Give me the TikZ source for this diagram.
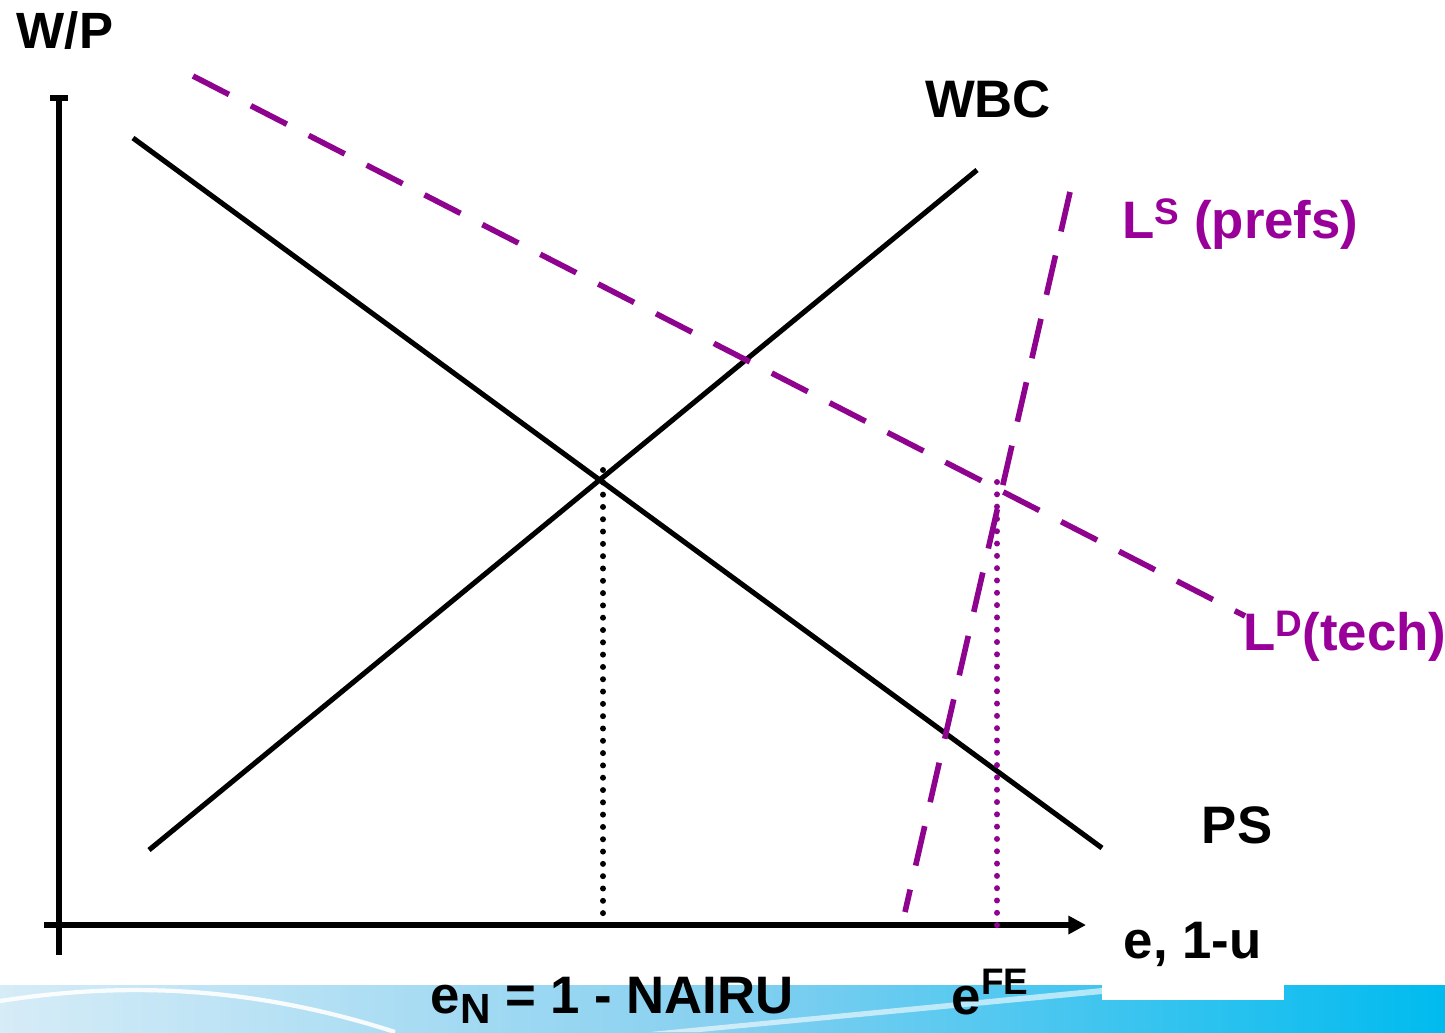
\documentclass[tikz,border=0pt]{standalone}
\usepackage{fontspec}
\setsansfont{Liberation Sans}
\usetikzlibrary{arrows.meta}

\begin{document}
\begin{tikzpicture}[x=0.01cm, y=-0.01cm, font=\sffamily\bfseries\fontsize{15}{17}\selectfont]

% --- colors ---
\definecolor{cPurple}{HTML}{8E048E}
\definecolor{cPurpleTxt}{HTML}{99009A}
\definecolor{cBandA}{HTML}{D6ECF7}
\definecolor{cBandB}{HTML}{86D0F0}
\definecolor{cBandC}{HTML}{00BBEF}

% --- styles ---
\tikzset{
  axisline/.style={line width=1.6pt},
  curve/.style={line width=1.45pt},
  dashcurve/.style={cPurple, line width=1.6pt, dash pattern=on 11.5pt off 7pt},
  dropline/.style={line width=1.7pt, line cap=round, dash pattern=on 0pt off 3.5pt},
  lbl/.style={inner sep=0pt, anchor=base},
}

% --- page ---
\useasboundingbox (0,0) rectangle (1445,1032);

% --- bottom band ---
\shade[left color=cBandA, right color=cBandB] (0,985) rectangle (723,1032);
\shade[left color=cBandB, right color=cBandC] (722,985) rectangle (1445,1032);
\draw[white, line width=1.2pt, opacity=0.9]
  (0,1001) .. controls (120,982) and (250,985) .. (395,1032);
\fill[white, opacity=0.6] (650,1032) -- (1102,988) -- (1102,994) -- (700,1032) -- cycle;
\fill[white] (1102,985) rectangle (1284,1000);

% --- points ---
\coordinate (yBot) at (59,955);
\coordinate (yTop) at (59,95);
\coordinate (xLeft) at (44,925);
\coordinate (xRight) at (1086,925);
\coordinate (psA) at (133,138);
\coordinate (psB) at (1102,848);
\coordinate (wbcA) at (149,850);
\coordinate (wbcB) at (977,170);
\coordinate (ldA) at (193,76);
\coordinate (ldB) at (1245,616);
\coordinate (lsA) at (1070,192);
\coordinate (lsB) at (905,912);
\coordinate (eqN) at (603,470);
\coordinate (eqNb) at (603,915);
\coordinate (eqF) at (997,482);
\coordinate (eqFb) at (997,930);

% --- axes ---
\draw[axisline, {Bar[width=5pt]}-] (yTop) -- (yBot);
\draw[axisline, -{Triangle[length=5pt, width=5pt]}] (xLeft) -- (xRight);

% --- curves ---
\draw[curve] (psA) -- (psB);
\draw[curve] (wbcA) -- (wbcB);
\draw[dashcurve] (ldA) -- (ldB);
\draw[dashcurve] (lsA) -- (lsB);

% --- drop lines ---
\draw[dropline] (eqN) -- (eqNb);
\draw[dropline, cPurple] (eqF) -- (eqFb);

% --- labels ---
\node[lbl, font=\sffamily\bfseries\fontsize{14.5}{16}\selectfont] (wpLbl) at (65,48) {W/P};
\node[lbl] (wbcLbl) at (988,117) {WBC};
\node[lbl] (psLbl) at (1237,843) {PS};
\node[lbl, anchor=base west, text=cPurpleTxt] (lsLbl) at (1122,238)
  {L\raisebox{0.5ex}{\fontsize{10.5}{11}\selectfont S} (prefs)};
\node[lbl, anchor=base west, text=cPurpleTxt] (ldLbl) at (1243,650)
  {L\raisebox{0.5ex}{\fontsize{10.5}{11}\selectfont D}(tech)};
\node[lbl, anchor=base west] (xLbl) at (1123,958) {e, 1-u};
\node[lbl, anchor=base west] (enLbl) at (430,1013)
  {e\raisebox{-0.38ex}{\fontsize{12}{12}\selectfont N} = 1 - NAIRU};
\node[lbl, anchor=base west] (efeLbl) at (951,1014)
  {e\raisebox{0.7ex}{\fontsize{10.5}{11}\selectfont FE}};

\end{tikzpicture}
\end{document}
